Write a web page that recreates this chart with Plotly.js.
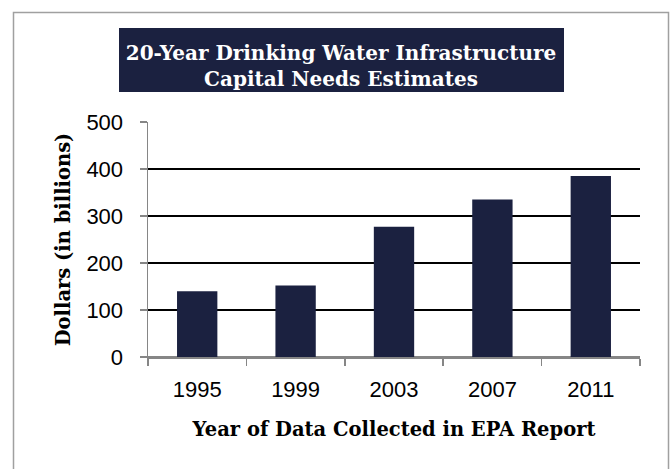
<!DOCTYPE html>
<html>
<head>
<meta charset="utf-8">
<script src="https://cdn.plot.ly/plotly-3.0.1.min.js"></script>
<style>html,body{margin:0;padding:0;background:#fff;}#chart{width:671px;height:469px;}</style>
</head>
<body>
<div id="chart"></div>
<script>
const years = ["1995", "1999", "2003", "2007", "2011"];
const needs = [140, 152, 277, 335, 385];
const yTicks = [0, 100, 200, 300, 400, 500];

const W = 671, H = 469;
const M = {l: 148, r: 31, t: 122, b: 112};
const PW = W - M.l - M.r, PH = H - M.t - M.b;
const px = x => (x - M.l) / PW;
const py = y => (H - M.b - y) / PH;

const navy = "#1b2140";
const serif = "DejaVu Serif, Liberation Serif, serif";
const sans = "Liberation Sans, Arial, sans-serif";

const trace = {
  type: "bar",
  x: years,
  y: needs,
  marker: {color: navy, line: {width: 0}},
  hoverinfo: "x+y"
};

const layout = {
  width: W, height: H,
  margin: M,
  paper_bgcolor: "#fff",
  plot_bgcolor: "#fff",
  showlegend: false,
  bargap: 0.59,
  title: {
    text: "<b>20-Year Drinking Water Infrastructure<br>Capital Needs Estimates</b>",
    font: {family: serif, size: 20, color: "#ffffff"},
    x: 341 / W, xanchor: "center", xref: "container",
    y: 1 - 60 / H, yanchor: "middle", yref: "container"
  },
  xaxis: {
    type: "category",
    tickson: "boundaries",
    ticks: "outside", ticklen: 7, tickcolor: "#868686", tickwidth: 1.5,
    showline: true, linecolor: "#868686", linewidth: 1.5,
    showgrid: false,
    ticklabelstandoff: 12,
    tickfont: {family: sans, size: 22, color: "#000"},
    title: {text: "<b>Year of Data Collected in EPA Report</b>", font: {family: serif, size: 19.5, color: "#000"}, standoff: 21}
  },
  yaxis: {
    range: [0, 500],
    tickvals: yTicks,
    ticktext: yTicks.map(String),
    ticks: "outside", ticklen: 7, tickcolor: "#868686", tickwidth: 1.5,
    showline: true, linecolor: "#868686", linewidth: 1.5,
    showgrid: true, gridcolor: "#000", gridwidth: 1.5,
    zeroline: true, zerolinecolor: "#868686", zerolinewidth: 1.5,
    ticklabelstandoff: 12,
    tickfont: {family: sans, size: 22, color: "#000"},
    title: {text: "<b>Dollars (in billions)</b>", font: {family: serif, size: 19.5, color: "#000"}, standoff: 10}
  },
  shapes: [
    {type: "rect", xref: "paper", yref: "paper",
     x0: px(13.5), x1: px(668.5), y0: py(485), y1: py(12.5),
     line: {color: "#a0a0a0", width: 1.5}, fillcolor: "rgba(0,0,0,0)", layer: "below"},
    {type: "rect", xref: "paper", yref: "paper",
     x0: px(119), x1: px(564), y0: py(92), y1: py(28),
     line: {width: 0}, fillcolor: navy, layer: "above"}
  ]
};

Plotly.newPlot("chart", [trace], layout, {displayModeBar: false, staticPlot: true});
</script>
</body>
</html>
